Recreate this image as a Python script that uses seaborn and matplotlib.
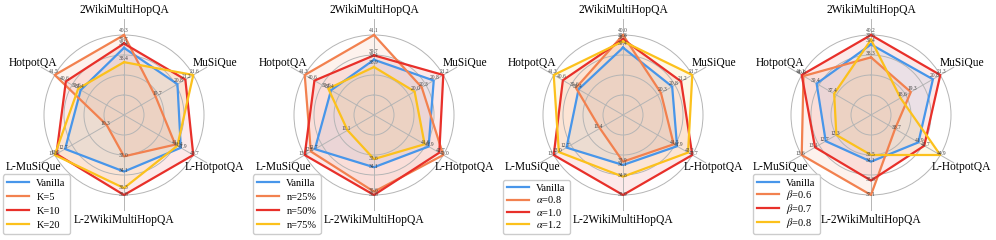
import numpy as np
import pandas as pd
import matplotlib
matplotlib.use("Agg")
import matplotlib.pyplot as plt
import seaborn as sns
from matplotlib.lines import Line2D

plt.rcParams["font.family"] = ["Liberation Serif", "DejaVu Serif"]
plt.rcParams["mathtext.fontset"] = "stix"

# axes of every radar, clockwise from the top
axes_names = ["2WikiMultiHopQA", "MuSiQue", "L-HotpotQA",
              "L-2WikiMultiHopQA", "L-MuSiQue", "HotpotQA"]

vanilla = [39.4, 20.8, 41.9, 34.1, 12.7, 39.4]

# panel 1: K
k_names = ["Vanilla", "K=5", "K=10", "K=20"]
k5 = [40.3, 19.7, 41.1, 33.0, 10.3, 41.5]
k10 = [39.7, 21.2, 43.7, 35.8, 13.2, 40.6]
k20 = [38.4, 21.6, 41.4, 35.3, 13.3, 39.6]
k_floor = [34.7, 18.1, 33.7, 30.0, 9.3, 35.9]

# panel 2: n
n_names = ["Vanilla", "n=25%", "n=50%", "n=75%"]
n25 = [41.1, 20.3, 43.0, 35.6, 12.9, 41.3]
n50 = [39.7, 21.2, 42.7, 35.8, 13.2, 40.6]
n75 = [38.9, 20.0, 41.6, 33.6, 11.1, 39.6]
n_floor = [35.6, 18.3, 37.8, 30.9, 9.8, 36.3]

# panel 3: alpha
a_names = ["Vanilla", r"$\alpha$=0.8", r"$\alpha$=1.0", r"$\alpha$=1.2"]
a08 = [40.0, 20.3, 41.5, 33.9, 11.4, 39.6]
a10 = [39.8, 21.2, 43.7, 35.9, 13.2, 40.6]
a12 = [39.7, 21.7, 43.2, 34.8, 13.0, 41.3]
a_floor = [36.2, 18.6, 35.5, 31.1, 10.5, 36.0]

# panel 4: beta
b_names = ["Vanilla", r"$\beta$=0.6", r"$\beta$=0.7", r"$\beta$=0.8"]
b06 = [38.3, 19.3, 38.7, 37.1, 13.6, 40.9]
b07 = [40.2, 21.3, 42.7, 35.8, 13.1, 41.1]
b08 = [39.8, 18.6, 44.9, 33.5, 12.3, 37.4]
b_floor = [33.4, 16.6, 35.4, 29.9, 11.0, 33.2]

colors = ["#4896ea", "#f2814f", "#e8302a", "#fcc11c"]

panels = [
    (k_names, [vanilla, k5, k10, k20], k_floor),
    (n_names, [vanilla, n25, n50, n75], n_floor),
    (a_names, [vanilla, a08, a10, a12], a_floor),
    (b_names, [vanilla, b06, b07, b08], b_floor),
]

W, H = 996, 240
centers = [124, 374, 623, 871]
legend_x = [3, 253, 503, 753]
# greek labels are taller in mathtext, so tighten their rows
legend_spacing = [0.45, 0.45, 0.12, 0.0]
R = 96  # pixel radius of the polar axes (outer ring = 1.0 sits at 80px)

angles = np.linspace(0, 2 * np.pi, len(axes_names), endpoint=False)

fig = plt.figure(figsize=(W / 100, H / 100), dpi=100)

for i, (names, series, floor) in enumerate(panels):
    cx = centers[i]
    ax = fig.add_axes([(cx - R) / W, (125 - R) / H, 2 * R / W, 2 * R / H], polar=True)
    ax.set_theta_offset(np.pi / 2)
    ax.set_theta_direction(-1)

    vals = np.array(series, dtype=float)
    floor = np.array(floor)
    top = vals.max(axis=0)
    radius = (vals - floor) / (top - floor)

    rows = []
    for name, rr, vv in zip(names, radius, vals):
        for t, r, v in zip(np.append(angles, 2 * np.pi), np.append(rr, rr[0]), np.append(vv, vv[0])):
            rows.append({"series": name, "theta": t, "r": r, "value": v})
    df = pd.DataFrame(rows)

    sns.lineplot(data=df, x="theta", y="r", hue="series", hue_order=names,
                 palette=colors, sort=False, estimator=None, linewidth=1.6,
                 legend=False, ax=ax)
    for name, c in zip(names, colors):
        sub = df[df["series"] == name]
        ax.fill(sub["theta"], sub["r"], color=c, alpha=0.1, zorder=1)
        for _, row in sub.iloc[:-1].iterrows():
            ax.text(row["theta"], row["r"] + 0.02, f"{row['value']:.1f}",
                    fontsize=4, color="#444444", ha="center", va="bottom", zorder=5)

    ax.set_ylim(0, 1.2)
    ax.set_yticks([0.25, 0.5, 0.75, 1.0])
    ax.set_yticklabels([])
    ax.set_xticks(angles)
    ax.set_xticklabels([])
    ax.grid(color="#b5b5b5", linewidth=0.7)
    ax.spines["polar"].set_visible(False)
    ax.set_xlabel("")
    ax.set_ylabel("")
    for t, lab in zip(angles, axes_names):
        ax.text(t, 1.31, lab, fontsize=8.3, ha="center", va="center")

    handles = [Line2D([], [], color=c, linewidth=1.6) for c in colors]
    leg = ax.legend(handles, names, loc="lower left",
                    bbox_to_anchor=(legend_x[i] / W, 6 / H), bbox_transform=fig.transFigure,
                    borderaxespad=0, fontsize=7.5, handlelength=2.1, handletextpad=0.7,
                    labelspacing=legend_spacing[i], borderpad=0.4, frameon=True,
                    fancybox=True, edgecolor="#cccccc", framealpha=1.0)
    leg.set_zorder(10)

fig.savefig("out.png", dpi=100)
